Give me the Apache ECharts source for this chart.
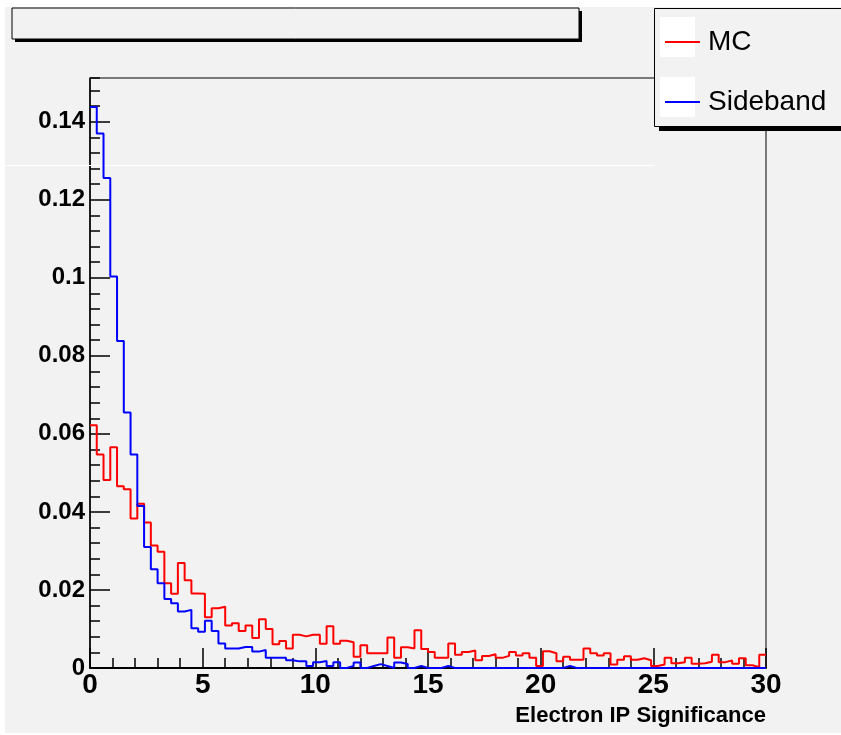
<!DOCTYPE html>
<html><head><meta charset="utf-8">
<script src="https://cdn.jsdelivr.net/npm/echarts@6/dist/echarts.min.js"></script>
<style>html,body{margin:0;padding:0;background:#fff}#c{width:841px;height:735px}</style>
</head><body><div id="c"></div>
<script>
// ---- data ----
const binLow = 0;
const binWidth = 0.3;
const seriesNames = ['MC', 'Sideband'];
const mcValues = [
  0.0622,0.0547,0.0482,0.0566,0.0466,0.0458,0.0383,0.0421,0.0373,0.0314,
  0.0298,0.0217,0.0190,0.0269,0.0225,0.0191,0.0190,0.0130,0.0153,0.0157,
  0.0109,0.0115,0.0095,0.0109,0.0077,0.0125,0.0100,0.0061,0.0069,0.0050,
  0.0085,0.0081,0.0085,0.0085,0.0062,0.0107,0.0062,0.0070,0.0066,0.0029,
  0.0058,0.0038,0.0038,0.0038,0.0078,0.0026,0.0053,0.0050,0.0097,0.0049,
  0.0041,0.0026,0.0026,0.0063,0.0034,0.0041,0.0045,0.0020,0.0031,0.0035,
  0.0026,0.0031,0.0041,0.0032,0.0038,0.0026,0.0005,0.0043,0.0038,0.0017,
  0.0029,0.0021,0.0021,0.0050,0.0038,0.0032,0.0038,0.0009,0.0021,0.0030,
  0.0021,0.0025,0.0020,0.0005,0.0009,0.0026,0.0012,0.0015,0.0026,0.0011,
  0.0012,0.0016,0.0034,0.0015,0.0019,0.0011,0.0025,0.0007,0.0002,0.0034
];
const sidebandValues = [
  0.1438,0.1370,0.1256,0.1003,0.0838,0.0655,0.0547,0.0415,0.0310,0.0253,
  0.0217,0.0177,0.0166,0.0145,0.0149,0.0102,0.0093,0.0121,0.0095,0.0063,
  0.0050,0.0050,0.0054,0.0054,0.0042,0.0046,0.0026,0.0026,0.0026,0.0020,
  0.0017,0.0017,0.0005,0.0015,0.0018,0.0005,0.0015,0,0.0005,0.0014,
  0,0.0005,0.0010,0.0005,0,0.0014,0.0010,0,0.0005,0,
  0,0,0.0005,0,0,0,0,0,0,0,
  0,0,0,0,0,0,0,0,0,0,
  0.0005,0,0,0,0,0,0,0,0,0,
  0,0,0,0,0,0,0,0,0,0,
  0,0,0,0,0,0,0,0,0,0
];
const xMin = 0, xMax = 30, xTickStep = 5;
const yMin = 0, yMax = 0.1512, yTickStep = 0.02, yMinorStep = 0.004;
const xTitle = 'Electron IP Significance';

// ---- build ----
function toSteps(vals) {
  const pts = vals.map((v, i) => [+(binLow + i * binWidth).toFixed(4), v]);
  pts.push([+(binLow + vals.length * binWidth).toFixed(4), vals[vals.length - 1]]);
  return pts;
}
const FONT = '"Liberation Sans", Arial, Helvetica, sans-serif';
const BG = '#f2f2f2';

const chart = echarts.init(document.getElementById('c'), null, {renderer: 'canvas'});
chart.setOption({
  animation: false,
  backgroundColor: '#ffffff',
  grid: {left: 90, right: 75, top: 78, bottom: 67, show: true, borderColor: '#000', borderWidth: 1, backgroundColor: 'transparent'},
  xAxis: {
    type: 'value', min: xMin, max: xMax, interval: xTickStep,
    axisLine: {show: true, onZero: false, lineStyle: {color: '#000', width: 2}},
    axisTick: {show: true, inside: true, length: 20, lineStyle: {color: '#000', width: 1.5}},
    minorTick: {show: true, splitNumber: 5, length: 10, lineStyle: {color: '#000', width: 1.5}},
    axisLabel: {margin: 3, color: '#000', fontSize: 28, fontWeight: 'bold', fontFamily: FONT},
    splitLine: {show: false}, minorSplitLine: {show: false}
  },
  yAxis: [{
    type: 'value', min: yMin, max: yMax, interval: yTickStep, position: 'left',
    axisLine: {show: true, onZero: false, lineStyle: {color: '#000', width: 1.5}},
    axisTick: {show: true, inside: true, length: 20, lineStyle: {color: '#000', width: 1.5}},
    axisLabel: {margin: 5, color: '#000', fontSize: 24, fontWeight: 'bold', fontFamily: FONT, showMaxLabel: false},
    splitLine: {show: false}
  }, {
    type: 'value', min: yMin, max: yMax, interval: yMinorStep, position: 'left', offset: 0,
    axisLine: {show: false},
    axisTick: {show: true, inside: true, length: 10, lineStyle: {color: '#000', width: 1.5}},
    axisLabel: {show: false},
    splitLine: {show: false}
  }],
  legend: {
    orient: 'vertical', left: 660, top: 17, itemGap: 20,
    itemWidth: 35, itemHeight: 2, icon: 'rect', z: 6,
    textStyle: {fontSize: 28, fontFamily: FONT, color: '#000', lineHeight: 40, padding: [0, 0, 0, 3]},
    data: seriesNames
  },
  series: [{
    name: seriesNames[0], type: 'line', step: 'end', symbol: 'none',
    color: '#ff0000', lineStyle: {color: '#ff0000', width: 2},
    data: toSteps(mcValues), z: 3
  }, {
    name: seriesNames[1], type: 'line', step: 'end', symbol: 'none',
    color: '#0000ff', lineStyle: {color: '#0000ff', width: 2},
    data: toSteps(sidebandValues), z: 3
  }],
  graphic: [
    {type: 'rect', shape: {x: 5, y: 7, width: 836, height: 726}, style: {fill: BG}, z: -10, silent: true},
    // title box with shadow
    {type: 'rect', shape: {x: 15, y: 11, width: 567, height: 31}, style: {fill: '#000'}, z: 4, silent: true},
    {type: 'rect', shape: {x: 12, y: 8, width: 567, height: 31}, style: {fill: BG, stroke: '#000', lineWidth: 1}, z: 4, silent: true},
    // legend box with shadow
    {type: 'rect', shape: {x: 659, y: 13, width: 200, height: 118}, style: {fill: '#000'}, z: 4, silent: true},
    {type: 'rect', shape: {x: 654.5, y: 8.5, width: 200, height: 118}, style: {fill: BG, stroke: '#000', lineWidth: 1}, z: 4, silent: true},
    {type: 'rect', shape: {x: 660, y: 17, width: 35, height: 40}, style: {fill: '#ffffff'}, z: 5, silent: true},
    {type: 'rect', shape: {x: 660, y: 77, width: 35, height: 40}, style: {fill: '#ffffff'}, z: 5, silent: true},
    // faint artifact line
    {type: 'line', shape: {x1: 5, y1: 165.5, x2: 654, y2: 165.5}, style: {stroke: '#ffffff', lineWidth: 1}, z: 3, silent: true},
    // x axis title
    {type: 'text', x: 766, y: 716, style: {text: xTitle, fill: '#000', font: 'bold 22px ' + FONT, textAlign: 'right', textVerticalAlign: 'middle'}, z: 5, silent: true}
  ]
});
</script>
</body></html>
